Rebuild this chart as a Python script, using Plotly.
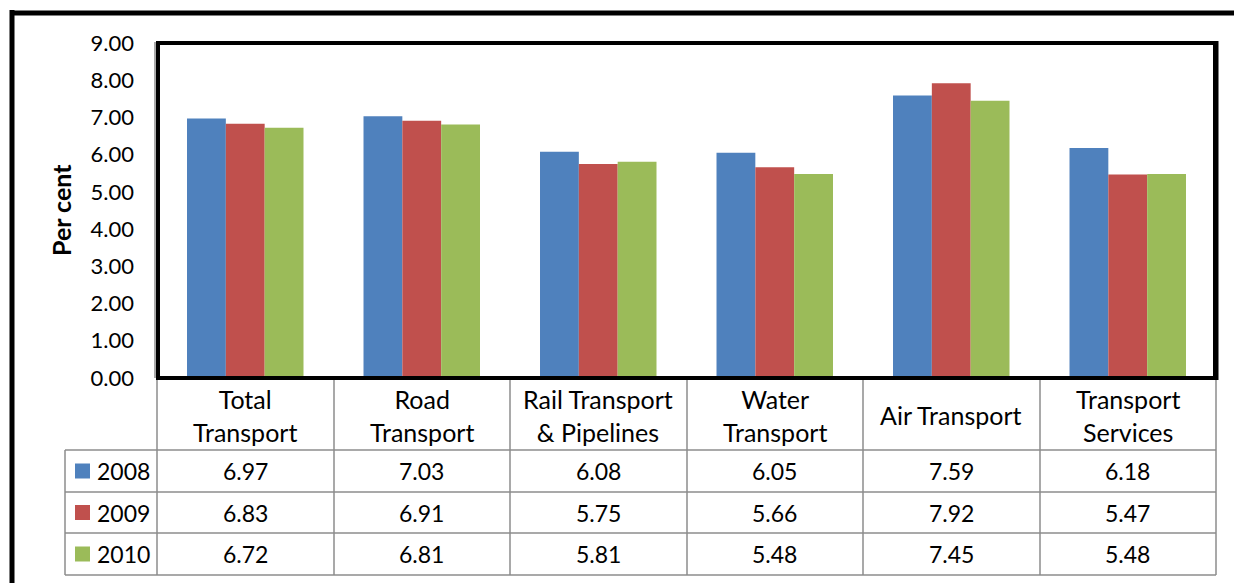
import plotly.graph_objects as go

categories = ["Total<br>Transport", "Road<br>Transport", "Rail Transport<br>& Pipelines",
              "Water<br>Transport", "Air Transport", "Transport<br>Services"]
years = ["2008", "2009", "2010"]
v2008 = [6.97, 7.03, 6.08, 6.05, 7.59, 6.18]
v2009 = [6.83, 6.91, 5.75, 5.66, 7.92, 5.47]
v2010 = [6.72, 6.81, 5.81, 5.48, 7.45, 5.48]
colors = ["#4F81BD", "#C0504D", "#9BBB59"]

W, H = 1234, 583
FONT = "Lato"


def px(x):
    return x / W


def py(y):
    return 1 - y / H


series = [v2008, v2009, v2010]
xs = list(range(len(categories)))

fig = go.Figure()
for name, vals, col in zip(years, series, colors):
    fig.add_trace(go.Bar(x=xs, y=vals, name=name, marker=dict(color=col, line=dict(width=0))))

shapes = []
ann = []
grey = "#8c8c8c"

# table rows
row_top = [450, 492, 533]
row_bot = [492, 533, 575]
for y in [450, 492, 533, 575]:
    shapes.append(dict(type="line", xref="paper", yref="paper", x0=px(65), x1=px(1216),
                       y0=py(y), y1=py(y), line=dict(color=grey, width=1.5)))
for x in [157, 334, 510, 687, 863, 1040, 1216]:
    shapes.append(dict(type="line", xref="paper", yref="paper", x0=px(x), x1=px(x),
                       y0=py(378), y1=py(575), line=dict(color=grey, width=1.5)))
shapes.append(dict(type="line", xref="paper", yref="paper", x0=px(65), x1=px(65),
                   y0=py(450), y1=py(575), line=dict(color=grey, width=1.5)))

# header text
for i, c in enumerate(categories):
    ann.append(dict(x=i, y=py(415), xref="x", yref="paper", text=c, showarrow=False,
                    xanchor="center", yanchor="middle",
                    font=dict(family=FONT, size=25, color="black"), align="center"))

# table values and legend keys
for r, (name, vals, col) in enumerate(zip(years, series, colors)):
    yc = (row_top[r] + row_bot[r]) / 2
    shapes.append(dict(type="rect", xref="paper", yref="paper", x0=px(75), x1=px(90),
                       y0=py(yc - 7.5), y1=py(yc + 7.5), fillcolor=col, line=dict(width=0)))
    ann.append(dict(x=px(95), y=py(yc), xref="paper", yref="paper", text=name, showarrow=False,
                    xanchor="left", yanchor="middle",
                    font=dict(family=FONT, size=23, color="black")))
    for i, v in enumerate(vals):
        ann.append(dict(x=i, y=py(yc), xref="x", yref="paper", text=f"{v:.2f}", showarrow=False,
                        xanchor="center", yanchor="middle",
                        font=dict(family=FONT, size=23, color="black")))

# plot area border (left edge drawn double like the original)
shapes.append(dict(type="line", xref="paper", yref="paper", x0=px(155), x1=px(155),
                   y0=py(378), y1=py(42), line=dict(color=grey, width=1.5)))
shapes.append(dict(type="rect", xref="paper", yref="paper", x0=px(158), x1=px(1215),
                   y0=py(378), y1=py(43), line=dict(color="black", width=4)))
shapes.append(dict(type="line", xref="paper", yref="paper", x0=px(1216), x1=px(1216),
                   y0=py(380), y1=py(41), line=dict(color="black", width=5)))
# outer chart border
shapes.append(dict(type="line", xref="paper", yref="paper", x0=px(12), x1=px(12),
                   y0=py(10), y1=0, line=dict(color="black", width=5)))
shapes.append(dict(type="line", xref="paper", yref="paper", x0=px(10), x1=1,
                   y0=py(13), y1=py(13), line=dict(color="black", width=5)))

ann.append(dict(x=px(61), y=py(210), xref="paper", yref="paper", text="<b>Per cent</b>",
                showarrow=False, textangle=-90, xanchor="center", yanchor="middle",
                font=dict(family=FONT, size=25, color="black")))

fig.update_layout(
    template="none",
    width=W, height=H, autosize=False,
    margin=dict(l=0, r=0, t=0, b=0, pad=0),
    paper_bgcolor="white", plot_bgcolor="white",
    barmode="group", bargap=0.34, bargroupgap=0,
    showlegend=False,
    xaxis=dict(domain=[px(157), px(1216)], range=[-0.5, 5.5], showticklabels=False,
               showgrid=False, zeroline=False, showline=False, fixedrange=True,
               automargin=False),
    yaxis=dict(domain=[py(378), py(43)], range=[0, 9], tickvals=list(range(10)),
               tickformat=".2f", showgrid=False, zeroline=False, showline=False,
               ticks="", ticklabelstandoff=22, automargin=False, fixedrange=True,
               tickfont=dict(family=FONT, size=22, color="black")),
    shapes=shapes,
    annotations=ann,
)

fig.write_html("out.html", config={"displayModeBar": False},
               post_script="document.body.style.margin='0';document.body.style.overflow='hidden';")
